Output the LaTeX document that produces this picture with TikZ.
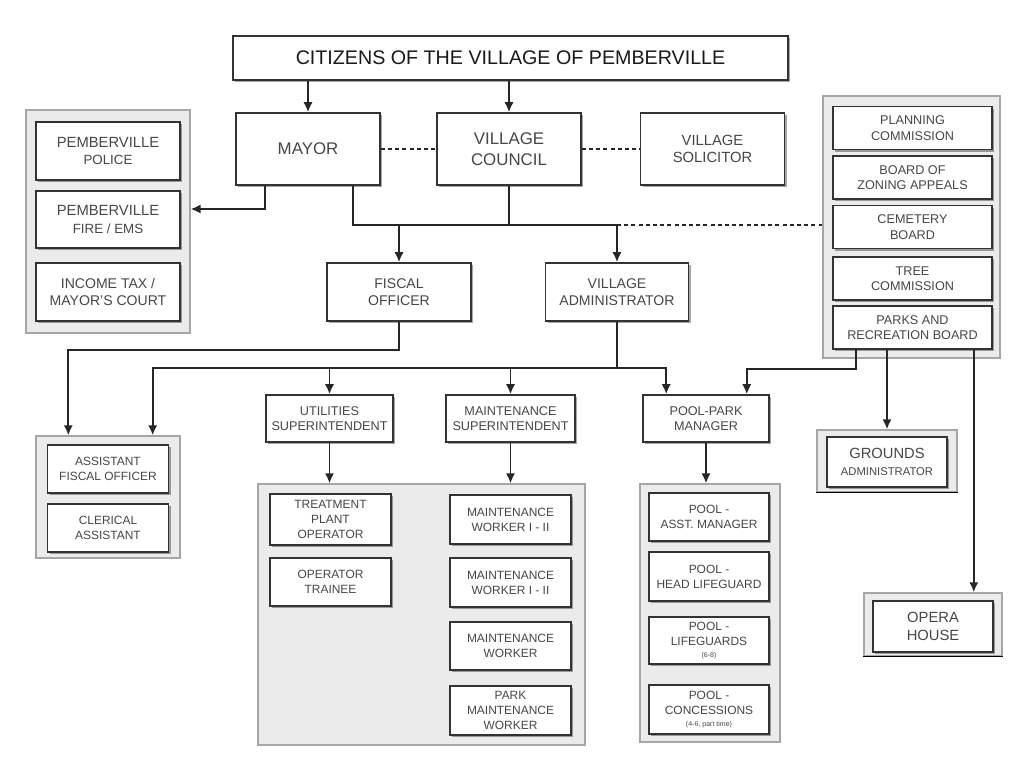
\documentclass[tikz,border=0pt]{standalone}
\usepackage{fontspec}
\setmainfont{Liberation Sans}
\usetikzlibrary{arrows.meta,shadows}

\begin{document}
\begin{tikzpicture}[x=0.25mm, y=-0.25mm,
  box/.style={draw=black!80, line width=0.4mm, fill=white, align=center, text=black!72, inner sep=1pt,
    drop shadow={shadow xshift=0.6mm, shadow yshift=-0.6mm, fill=black, opacity=0.35}},
  groupbox/.style={draw=black!35, line width=0.35mm, fill=black!8, inner sep=0pt},
  bigbox/.style={box, minimum width=36mm, minimum height=18mm, font=\fontsize{12}{15}\selectfont},
  midbox/.style={box, minimum width=36mm, minimum height=14.5mm, font=\fontsize{10.5}{12.5}\selectfont},
  rbox/.style={box, minimum width=39.75mm, minimum height=10.75mm, font=\fontsize{9}{11}\selectfont},
  supbox/.style={box, minimum width=32mm, minimum height=11.75mm, font=\fontsize{9}{11}\selectfont},
  smallbox/.style={box, minimum width=30.25mm, minimum height=12.25mm, font=\fontsize{8.5}{10.5}\selectfont},
  conn/.style={line width=0.45mm, black!85},
  arr/.style={conn, -{Latex[length=2.5mm,width=2.3mm]}},
  link/.style={line width=0.4mm, black!85, dash pattern=on 1mm off 0.8mm}]
\useasboundingbox (0,0) rectangle (1024,768);

% top level
\node[box, minimum width=138.75mm, minimum height=11mm, text=black!90, font=\fontsize{14}{16}\selectfont] (title) at (510.5,58) {CITIZENS OF THE VILLAGE OF PEMBERVILLE};
\node[bigbox] (mayor) at (308,149) {MAYOR};
\node[bigbox] (council) at (509,149) {VILLAGE\\COUNCIL};
\node[bigbox, font=\fontsize{10.5}{12.5}\selectfont] (solicitor) at (712.5,149) {VILLAGE\\SOLICITOR};

% left group
\node[groupbox, minimum width=41mm, minimum height=55.75mm] (leftgrp) at (108,221.5) {};
\node[midbox] (police) at (108,151) {PEMBERVILLE\\{\fontsize{9.5}{11}\selectfont POLICE}};
\node[midbox, minimum height=14.25mm] (fire) at (108,219.5) {PEMBERVILLE\\{\fontsize{9.5}{11}\selectfont FIRE / EMS}};
\node[midbox, font=\fontsize{10}{12.5}\selectfont] (income) at (108,292) {INCOME TAX /\\MAYOR'S COURT};

\node[midbox, font=\fontsize{10}{12.5}\selectfont] (fiscal) at (399,292) {FISCAL\\OFFICER};
\node[midbox, minimum width=35.75mm, font=\fontsize{10}{12.5}\selectfont] (admin) at (617,292) {VILLAGE\\ADMINISTRATOR};

% boards and commissions
\node[groupbox, minimum width=44.25mm, minimum height=65.5mm] (rightgrp) at (911.5,227) {};
\node[rbox] (planning) at (912.5,128) {PLANNING\\COMMISSION};
\node[rbox] (zoning) at (912.5,177.5) {BOARD OF\\ZONING APPEALS};
\node[rbox] (cemetery) at (912.5,227) {CEMETERY\\BOARD};
\node[rbox] (tree) at (912.5,278.5) {TREE\\COMMISSION};
\node[rbox] (parks) at (912.5,327.5) {PARKS AND\\RECREATION BOARD};

% assistants
\node[groupbox, minimum width=36mm, minimum height=30.5mm] (asstgrp) at (108,497) {};
\node[smallbox, minimum height=12mm] (asstfo) at (108,469) {ASSISTANT\\FISCAL OFFICER};
\node[smallbox, minimum height=12mm] (clerical) at (108,528) {CLERICAL\\ASSISTANT};

% superintendents
\node[supbox, minimum width=31.75mm] (util) at (329.5,418.5) {UTILITIES\\SUPERINTENDENT};
\node[supbox, minimum width=32.25mm] (maint) at (510.5,418.5) {MAINTENANCE\\SUPERINTENDENT};
\node[supbox, minimum width=31.5mm] (poolpark) at (706,418.5) {POOL-PARK\\MANAGER};

% staff
\node[groupbox, minimum width=81.75mm, minimum height=65.25mm] (midgrp) at (421.5,614.5) {};
\node[smallbox, minimum height=12.75mm] (treat) at (330.5,519.5) {TREATMENT\\PLANT\\OPERATOR};
\node[smallbox, minimum height=12mm] (trainee) at (330.5,582) {OPERATOR\\TRAINEE};
\node[smallbox] (mw1) at (510.5,519.5) {MAINTENANCE\\WORKER I - II};
\node[smallbox] (mw2) at (510.5,582.5) {MAINTENANCE\\WORKER I - II};
\node[smallbox, minimum height=12mm] (mw3) at (510.5,646) {MAINTENANCE\\WORKER};
\node[smallbox] (pmw) at (510.5,710.5) {PARK\\MAINTENANCE\\WORKER};

\node[groupbox, minimum width=35mm, minimum height=64.5mm] (poolgrp) at (710,613) {};
\node[smallbox, minimum width=30mm, minimum height=12mm] (pam) at (709,517) {POOL -\\ASST. MANAGER};
\node[smallbox, minimum width=30mm] (phl) at (709,576.5) {POOL -\\HEAD LIFEGUARD};
\node[smallbox, minimum width=30mm, minimum height=11.75mm] (plg) at (709,640.5) {POOL -\\LIFEGUARDS\\[-2pt]{\fontsize{5}{6}\selectfont (6-8)}};
\node[smallbox, minimum width=30mm] (pcon) at (709,709.5) {POOL -\\CONCESSIONS\\[-2pt]{\fontsize{5}{6}\selectfont (4-6, part time)}};

\node[groupbox, minimum width=35mm, minimum height=15.5mm] (grdgrp) at (887,461) {};
\node[box, minimum width=30mm, minimum height=12.5mm, font=\fontsize{10.5}{12.5}\selectfont] (grounds) at (887,462) {GROUNDS\\{\fontsize{8}{10}\selectfont ADMINISTRATOR}};
\draw[line width=0.3mm] (grdgrp.south west) -- (grdgrp.south east);

\node[groupbox, minimum width=34.5mm, minimum height=15.75mm] (operagrp) at (933,624.5) {};
\node[box, minimum width=30mm, minimum height=12.75mm, font=\fontsize{10.5}{13}\selectfont] (opera) at (933,626.5) {OPERA\\HOUSE};
\draw[line width=0.3mm] (operagrp.south west) -- (operagrp.south east);

% connectors
\coordinate (bus1) at (617,225);
\coordinate (bus2) at (617,368);
\draw[arr] (mayor.north |- title.south) -- (mayor.north);
\draw[arr] (council.north |- title.south) -- (council.north);
\draw[link] (mayor) -- (council);
\draw[link] (council) -- (solicitor);
\draw[arr] (mayor.south west) ++(30,0) |- (leftgrp.east |- 0,209);
\draw[conn] (mayor.south east) ++(-28,0) |- (bus1);
\draw[conn] (council.south) -- (council.south |- bus1);
\draw[arr] (bus1) -- (admin.north);
\draw[arr] (fiscal.north |- bus1) -- (fiscal.north);
\draw[link] (bus1) -- (bus1 -| rightgrp.west);
\draw[arr] (fiscal.south) -- ++(0,28) -| ([xshift=8.25mm]asstgrp.north west);
\draw[conn] (admin.south) -- (bus2);
\draw[arr] (bus2) -| ([xshift=-7mm]asstgrp.north east);
\draw[arr] (bus2) -| ([xshift=6mm]poolpark.north west);
\draw[arr] (util.north |- bus2) -- (util.north);
\draw[arr] (maint.north |- bus2) -- (maint.north);
\draw[arr] (util.south) -- (util.south |- midgrp.north);
\draw[arr] (maint.south) -- (maint.south |- midgrp.north);
\draw[arr] (poolpark.south) -- (poolpark.south |- poolgrp.north);
\draw[arr] (parks.south west) ++(24,0) -- ++(0,19) -| ([xshift=-5.75mm]poolpark.north east);
\draw[arr] (grdgrp.north |- parks.south) -- (grdgrp.north);
\draw[arr] (parks.south east) ++(-19,0) coordinate (p3) -- (p3 |- operagrp.north);
\end{tikzpicture}
\end{document}
